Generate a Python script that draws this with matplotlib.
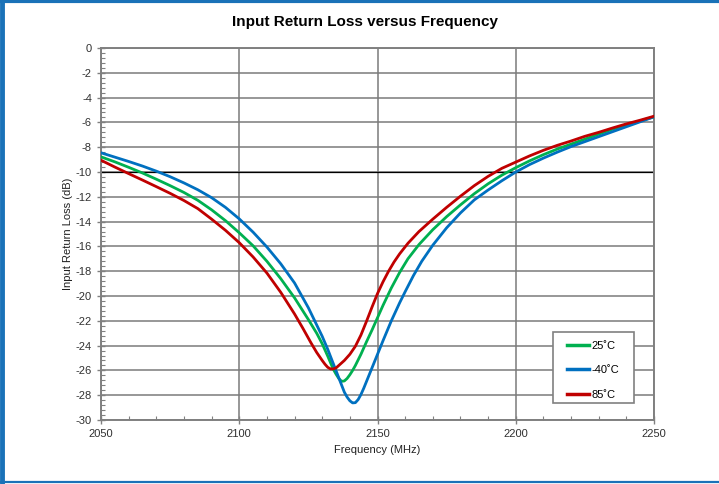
import matplotlib
matplotlib.use("Agg")
import matplotlib.pyplot as plt
from matplotlib.ticker import MultipleLocator
from matplotlib.lines import Line2D
from matplotlib.patches import Rectangle

plt.rcParams['font.family'] = ['Liberation Sans', 'DejaVu Sans']
plt.rcParams['axes.unicode_minus'] = False

# data (frequency in MHz, return loss in dB)
freq_25 = [2050, 2055, 2060, 2065, 2070, 2075, 2080, 2085, 2090, 2095, 2100, 2105, 2110, 2115,
           2120, 2125, 2128, 2130, 2132, 2134, 2135, 2136, 2137, 2138, 2139, 2140, 2141, 2142,
           2144, 2146, 2148, 2150, 2152, 2155, 2158, 2161, 2165, 2170, 2175, 2180, 2185, 2190,
           2195, 2200, 2205, 2210, 2215, 2220, 2225, 2230, 2235, 2240, 2245, 2250]
rl_25 = [-8.78, -9.18, -9.62, -10.08, -10.58, -11.1, -11.65, -12.28, -13.05, -13.92, -14.9, -15.95, -17.2, -18.6,
         -20.15, -21.9, -23.0, -23.85, -24.85, -25.9, -26.3, -26.65, -26.88, -26.85, -26.65, -26.35, -26.0, -25.6,
         -24.7, -23.7, -22.75, -21.75, -20.75, -19.35, -18.1, -17.0, -15.85, -14.65, -13.6, -12.65, -11.75, -10.95,
         -10.25, -9.65, -9.1, -8.6, -8.15, -7.75, -7.35, -6.95, -6.55, -6.2, -5.88, -5.55]

freq_m40 = [2050, 2055, 2060, 2065, 2070, 2075, 2080, 2085, 2090, 2095, 2100, 2105, 2110, 2115,
            2120, 2125, 2130, 2132, 2134, 2136, 2138, 2139, 2140, 2141, 2142, 2143, 2144, 2145,
            2146, 2147, 2148, 2150, 2152, 2155, 2158, 2160, 2163, 2166, 2170, 2175, 2180, 2185,
            2190, 2195, 2200, 2205, 2210, 2215, 2220, 2225, 2230, 2235, 2240, 2245, 2250]
rl_m40 = [-8.45, -8.8, -9.15, -9.52, -9.93, -10.38, -10.88, -11.43, -12.07, -12.85, -13.78, -14.85, -16.05, -17.4,
          -18.95, -20.95, -23.25, -24.3, -25.45, -26.6, -27.75, -28.15, -28.45, -28.62, -28.6, -28.35, -27.95, -27.45,
          -26.9, -26.35, -25.8, -24.7, -23.6, -22.0, -20.55, -19.65, -18.35, -17.2, -15.9, -14.5, -13.3, -12.25,
          -11.45, -10.7, -10.0, -9.4, -8.88, -8.4, -7.95, -7.55, -7.15, -6.75, -6.35, -5.95, -5.55]

freq_85 = [2050, 2055, 2060, 2065, 2070, 2075, 2080, 2085, 2090, 2095, 2100, 2105, 2110, 2115,
           2120, 2123, 2126, 2128, 2130, 2131, 2132, 2133, 2134, 2135, 2136, 2138, 2140, 2142,
           2144, 2146, 2148, 2150, 2152, 2154, 2156, 2158, 2161, 2165, 2170, 2175, 2180, 2185,
           2190, 2195, 2200, 2205, 2210, 2215, 2220, 2225, 2230, 2235, 2240, 2245, 2250]
rl_85 = [-9.05, -9.6, -10.13, -10.65, -11.18, -11.72, -12.3, -12.95, -13.8, -14.7, -15.7, -16.85, -18.15, -19.7,
         -21.45, -22.6, -23.8, -24.55, -25.2, -25.5, -25.75, -25.88, -25.88, -25.8, -25.6, -25.2, -24.7, -24.05,
         -23.15, -22.05, -20.9, -19.8, -18.85, -18.0, -17.25, -16.6, -15.75, -14.8, -13.8, -12.85, -11.95, -11.1,
         -10.35, -9.7, -9.2, -8.7, -8.25, -7.85, -7.5, -7.12, -6.8, -6.45, -6.12, -5.82, -5.5]

labels = ['25˚C', '-40˚C', '85˚C']
colors = ['#00B050', '#0070C0', '#C00000']

fig = plt.figure(figsize=(7.19, 4.84), dpi=100)
ax = fig.add_axes([0.1405, 0.1322, 0.7691, 0.7686])

ax.plot(freq_25, rl_25, color=colors[0], lw=2, label=labels[0], zorder=3)
ax.plot(freq_m40, rl_m40, color=colors[1], lw=2, label=labels[1], zorder=3)
ax.plot(freq_85, rl_85, color=colors[2], lw=2, label=labels[2], zorder=3)

ax.set_xlim(2050, 2250)
ax.set_ylim(-30, 0)
ax.xaxis.set_major_locator(MultipleLocator(50))
ax.xaxis.set_minor_locator(MultipleLocator(10))
ax.yaxis.set_major_locator(MultipleLocator(2))
ax.yaxis.set_minor_locator(MultipleLocator(0.4))

ax.grid(True, which='major', color='#7a7a7a', lw=1.1)
ax.axhline(-10, color='black', lw=0.9, zorder=1)
ax.set_axisbelow(True)

for s in ax.spines.values():
    s.set_color('#808080')
    s.set_linewidth(1.4)

ax.tick_params(which='major', direction='inout', length=6, width=1, color='#808080',
               labelsize=8, labelcolor='#303030')
ax.tick_params(which='minor', direction='in', length=3, width=0.8, color='#808080')

ax.set_xlabel('Frequency (MHz)', fontsize=8, color='#202020', labelpad=4)
ax.set_ylabel('Input Return Loss (dB)', fontsize=8, color='#202020', labelpad=2)
fig.text(365 / 719, 1 - 22 / 484, 'Input Return Loss versus Frequency', fontsize=11,
         fontweight='bold', ha='center', va='center')

# legend box drawn separately so the entries can sit centred in it
ax.add_patch(Rectangle((0.8174, 0.0457), 0.1466, 0.1909, transform=ax.transAxes,
                       facecolor='white', edgecolor='#808080', lw=1.2, zorder=4))
leg = ax.legend(loc='upper left', bbox_to_anchor=(0.842, 0.213), frameon=False, fontsize=8,
                handlelength=2.0, handletextpad=0.2, labelspacing=1.3,
                borderpad=0, borderaxespad=0)
leg.set_zorder(5)
for h in leg.get_lines():
    h.set_linewidth(2.5)

# blue frame round the picture
blue = '#1A72B8'
fig.add_artist(Line2D([0.003, 0.003], [0, 1], color=blue, lw=3.5, transform=fig.transFigure))
fig.add_artist(Line2D([0, 1], [0.997, 0.997], color=blue, lw=3, transform=fig.transFigure))
fig.add_artist(Line2D([0, 1], [0.004, 0.004], color=blue, lw=1.6, transform=fig.transFigure))

fig.savefig('out.png', dpi=100)
